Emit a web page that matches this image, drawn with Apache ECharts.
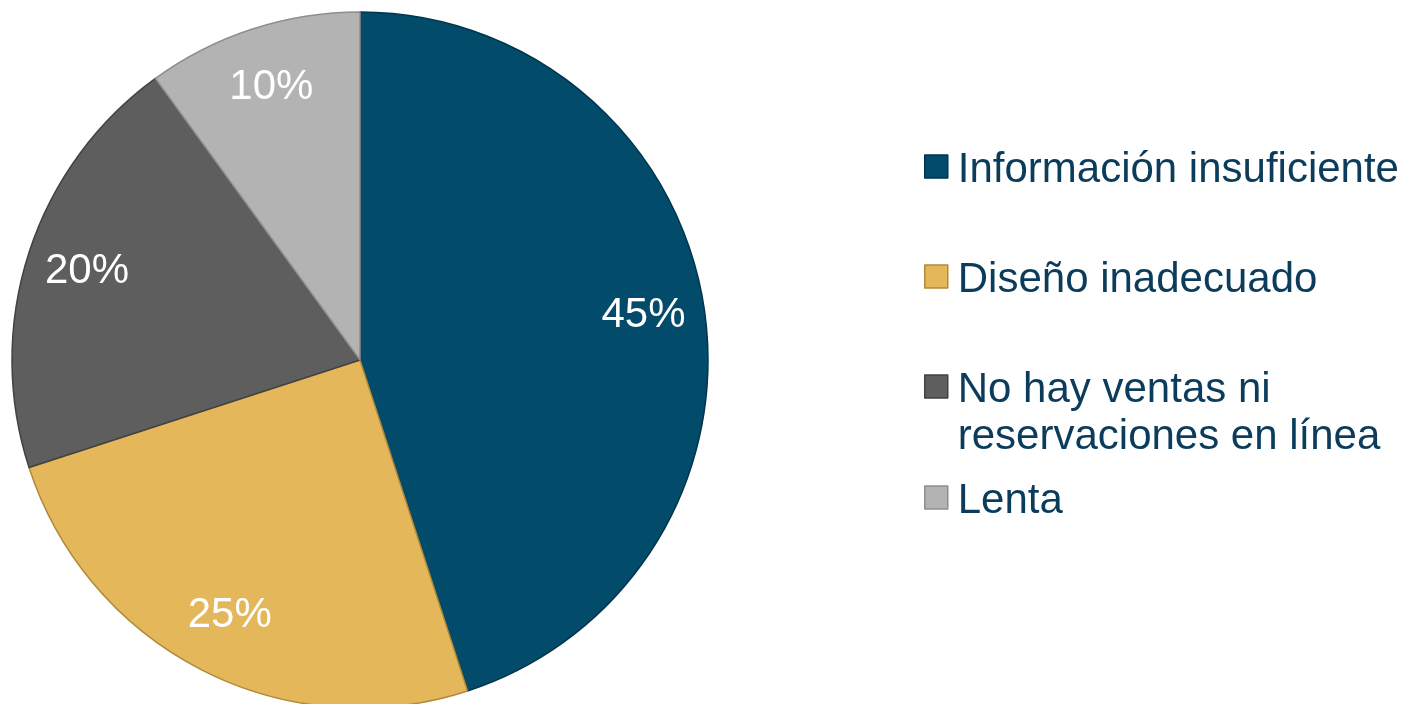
<!DOCTYPE html>
<html>
<head>
<meta charset="utf-8">
<style>
  html, body { margin: 0; padding: 0; background: #ffffff; }
  #chart { width: 1407px; height: 704px; }
</style>
<script src="https://cdn.jsdelivr.net/npm/echarts@6/dist/echarts.min.js"></script>
</head>
<body>
<div id="chart"></div>
<script>
const categories = ['Información insuficiente', 'Diseño inadecuado', 'No hay ventas ni reservaciones en línea', 'Lenta'];
const values = [45, 25, 20, 10];
const legendLabels = ['Información insuficiente', 'Diseño inadecuado', 'No hay ventas ni\nreservaciones en línea', 'Lenta'];

const fills = ['#024B6A', '#E3B75A', '#5E5E5E', '#B3B3B3'];
const borders = ['#01354C', '#B08A3A', '#424242', '#8E8E8E'];
const textColor = '#0B3C5B';
const font = "'Liberation Sans', Arial, sans-serif";

const chart = echarts.init(document.getElementById('chart'), null, { renderer: 'canvas' });

const mainData = categories.map((n, i) => ({
  name: n, value: values[i],
  itemStyle: { color: fills[i], borderColor: borders[i], borderWidth: 1.5 }
}));
const labelData = categories.map((n, i) => ({
  name: n, value: values[i],
  itemStyle: { color: 'rgba(0,0,0,0)', borderWidth: 0 }
}));

const iconTops = [155, 265, 375, 486];
const LH = 47;
const SQ = 23;      // square size
const TX = 28;      // icon box width so text starts 33px after icon left
const legends = categories.map((n, i) => {
  const lines = legendLabels[i].split('\n').length;
  // text block center offset below square center
  const off = 3.5 + (lines - 1) * LH / 2;
  const k = 2 * off;
  const H = SQ + k;
  const icon = 'path://M0 0 H' + SQ + ' V' + SQ + ' H0 Z M' + TX + ' ' + H;
  const center = H / 2;
  const boxTop = Math.min(0, center - lines * LH / 2);
  return {
    show: true, orient: 'vertical', left: 924, top: iconTops[i] + boxTop, padding: 0,
    itemWidth: TX, itemHeight: H, itemGap: 0, icon: icon,
    symbolKeepAspect: false,
    selectedMode: false,
    data: [n],
    formatter: () => legendLabels[i],
    textStyle: { color: textColor, fontSize: 42, fontFamily: font, lineHeight: LH },
    itemStyle: { borderWidth: 1.5 }
  };
});

chart.setOption({
  backgroundColor: '#ffffff',
  animation: false,
  legend: legends,
  series: [
    {
      type: 'pie',
      center: [360, 360],
      radius: [0, 348],
      startAngle: 90,
      clockwise: true,
      avoidLabelOverlap: false,
      label: { show: false },
      labelLine: { show: false },
      emphasis: { disabled: true },
      data: mainData
    },
    {
      type: 'pie',
      center: [360, 360],
      radius: [220, 348],
      startAngle: 90,
      clockwise: true,
      silent: true,
      avoidLabelOverlap: false,
      label: {
        show: true, position: 'inside', color: '#ffffff',
        fontSize: 42, fontFamily: font,
        formatter: p => p.value + '%'
      },
      labelLine: { show: false },
      emphasis: { disabled: true },
      data: labelData
    }
  ]
});
</script>
</body>
</html>
